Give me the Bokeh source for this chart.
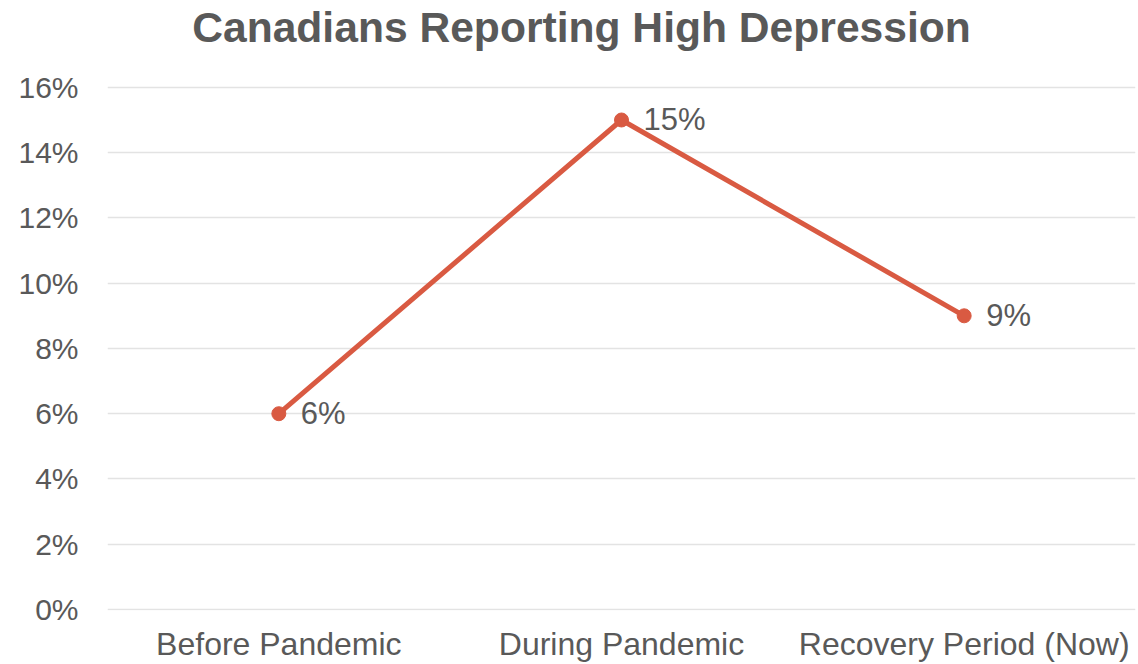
from bokeh.plotting import figure
from bokeh.models import ColumnDataSource, Range1d, NumeralTickFormatter, FixedTicker, Label
from bokeh.core.properties import value
from bokeh.embed import file_html
from bokeh.resources import INLINE

# Share of Canadians reporting high depression, by period
periods = ["Before Pandemic", "During Pandemic", "Recovery Period (Now)"]
share = [0.06, 0.15, 0.09]
labels = ["6%", "15%", "9%"]
y_ticks = [0.0, 0.02, 0.04, 0.06, 0.08, 0.10, 0.12, 0.14, 0.16]
chart_title = "Canadians Reporting High Depression"

TEXT = "#595959"
LINE = "#D95A42"
GRID = "#E3E3E3"
FONT = "Liberation Sans"

# The plot frame runs to the top of the canvas so the heading can sit inside it;
# the value axis is stretched so that the 16% gridline lands 87px below the top
# and 0% lands 610px below it.
TOP_TICK_PX, ZERO_PX = 87, 610
y_max = y_ticks[-1]
y_end = y_max * ZERO_PX / (ZERO_PX - TOP_TICK_PX)

src = ColumnDataSource(dict(x=periods, y=share, label=labels))

p = figure(
    x_range=periods,
    y_range=Range1d(-0.0003, y_end),
    width=1138,
    height=664,
    output_backend="svg",
    toolbar_location=None,
    min_border_left=107,
    min_border_right=3,
    min_border_top=0,
    min_border_bottom=46,
    outline_line_color=None,
)

# chart heading, centred a little left of the plot's middle
p.add_layout(Label(
    x=len(periods) / 2, y=y_max, x_offset=-40, y_offset=60,
    text=chart_title, text_align="center", text_baseline="alphabetic",
    text_font=FONT, text_font_size="42.6px", text_font_style="bold",
    text_color=TEXT,
))

p.line("x", "y", source=src, line_color=LINE, line_width=5)
p.scatter("x", "y", source=src, size=14, fill_color=LINE, line_color=LINE)
p.text("x", "y", text="label", source=src, x_offset=22, text_baseline="middle",
       text_align="left", text_font=value(FONT), text_font_size="31px",
       text_color=TEXT)

# axes
p.yaxis.ticker = FixedTicker(ticks=y_ticks)
p.yaxis.formatter = NumeralTickFormatter(format="0%")
for ax in (p.xaxis[0], p.yaxis[0]):
    ax.axis_line_color = None
    ax.major_tick_line_color = None
    ax.minor_tick_line_color = None
    ax.major_label_text_font = FONT
    ax.major_label_text_color = TEXT
p.yaxis.major_label_text_font_size = "30px"
p.xaxis.major_label_text_font_size = "32px"
p.yaxis.major_label_standoff = 23
p.xaxis.major_label_standoff = 9

p.xgrid.grid_line_color = None
p.ygrid.grid_line_color = GRID
p.ygrid.grid_line_width = 1.5

open("out.html", "w").write(file_html(p, INLINE))
